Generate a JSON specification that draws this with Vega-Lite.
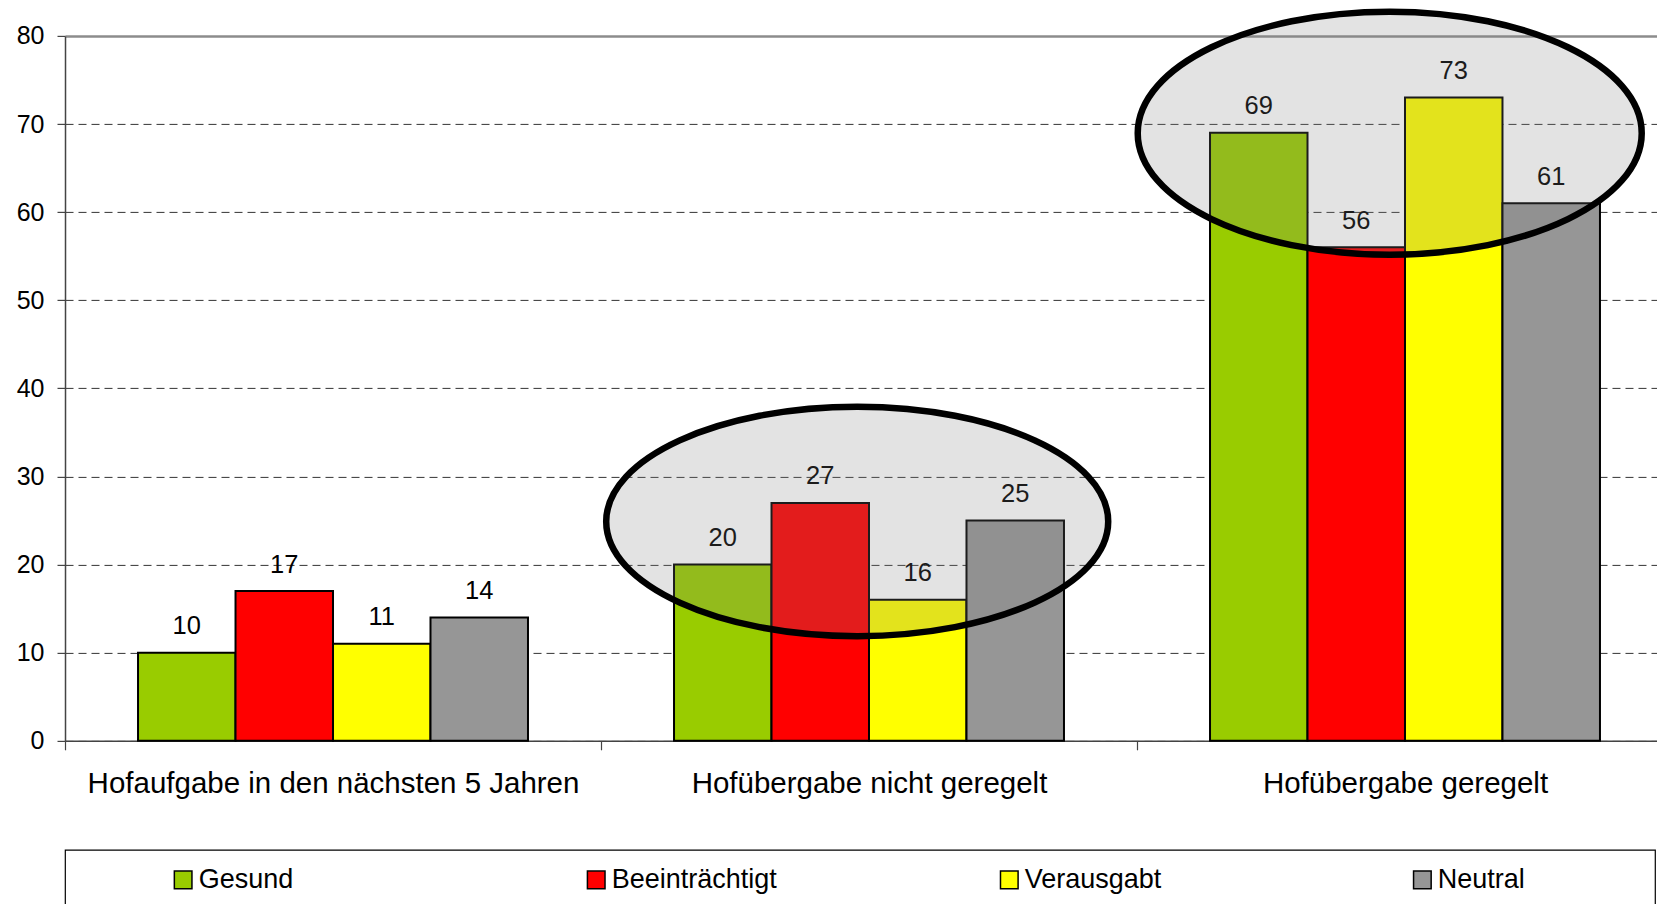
{
  "$schema": "https://vega.github.io/schema/vega-lite/v6.json",
  "padding": {"left": 16, "top": -2.1, "right": -17, "bottom": -6},
  "spacing": 109,
  "bounds": "flush",
  "resolve": {"scale": {"x": "independent", "y": "independent", "color": "shared"}},
  "config": {
    "font": "Liberation Sans",
    "view": {"stroke": null},
    "text": {"font": "Liberation Sans"}
  },
  "vconcat": [
    {
      "width": 1608,
      "height": 704.9,
      "data": {"values": [
        {"cat": "Hofaufgabe in den nächsten 5 Jahren", "series": "Gesund", "value": 10},
        {"cat": "Hofaufgabe in den nächsten 5 Jahren", "series": "Beeinträchtigt", "value": 17},
        {"cat": "Hofaufgabe in den nächsten 5 Jahren", "series": "Verausgabt", "value": 11},
        {"cat": "Hofaufgabe in den nächsten 5 Jahren", "series": "Neutral", "value": 14},
        {"cat": "Hofübergabe nicht geregelt", "series": "Gesund", "value": 20},
        {"cat": "Hofübergabe nicht geregelt", "series": "Beeinträchtigt", "value": 27},
        {"cat": "Hofübergabe nicht geregelt", "series": "Verausgabt", "value": 16},
        {"cat": "Hofübergabe nicht geregelt", "series": "Neutral", "value": 25},
        {"cat": "Hofübergabe geregelt", "series": "Gesund", "value": 69},
        {"cat": "Hofübergabe geregelt", "series": "Beeinträchtigt", "value": 56},
        {"cat": "Hofübergabe geregelt", "series": "Verausgabt", "value": 73},
        {"cat": "Hofübergabe geregelt", "series": "Neutral", "value": 61}
      ]},
      "encoding": {
        "x": {
          "field": "cat", "type": "nominal",
          "sort": ["Hofaufgabe in den nächsten 5 Jahren", "Hofübergabe nicht geregelt", "Hofübergabe geregelt"],
          "scale": {"paddingInner": 0, "paddingOuter": 0},
          "axis": {
            "title": null, "tickBand": "extent", "tickSize": 9, "tickColor": "#444444", "tickWidth": 1.2,
            "domainColor": "#444444", "domainWidth": 1.5, "labelFontSize": 29.5, "labelPadding": 20,
            "labelColor": "black", "labelAngle": 0, "labelLimit": 0, "grid": false
          }
        },
        "y": {
          "field": "value", "type": "quantitative",
          "scale": {"domain": [0, 80], "nice": false},
          "axis": {
            "title": null, "values": [0, 10, 20, 30, 40, 50, 60, 70, 80],
            "domainColor": "#444444", "domainWidth": 1.5, "tickColor": "#444444", "tickSize": 8, "tickWidth": 1.2,
            "labelFontSize": 25, "labelColor": "black", "labelPadding": 13,
            "grid": true,
            "gridColor": {"condition": {"test": "datum.value === 80", "value": "#8c8c8c"}, "value": "#333333"},
            "gridDash": {"condition": {"test": "datum.value === 80", "value": []}, "value": [8, 5]},
            "gridWidth": {"condition": {"test": "datum.value === 80", "value": 2.5}, "value": 1}
          }
        }
      },
      "layer": [
        {
          "mark": {"type": "bar", "stroke": "black", "strokeWidth": 2},
          "encoding": {
            "xOffset": {"field": "series", "type": "nominal", "sort": ["Gesund", "Beeinträchtigt", "Verausgabt", "Neutral"], "scale": {"paddingInner": 0, "paddingOuter": 0.749}},
            "color": {
              "field": "series", "type": "nominal",
              "scale": {"domain": ["Gesund", "Beeinträchtigt", "Verausgabt", "Neutral"], "range": ["#99CC00", "#FF0000", "#FFFF00", "#969696"]},
              "legend": null
            }
          }
        },
        {
          "mark": {"type": "text", "fontSize": 25.5, "color": "black", "baseline": "alphabetic", "dy": -18.4},
          "encoding": {
            "xOffset": {"field": "series", "type": "nominal", "sort": ["Gesund", "Beeinträchtigt", "Verausgabt", "Neutral"]},
            "text": {"field": "value", "type": "quantitative"}
          }
        },
        {
          "data": {"values": [{"cat": "Hofübergabe nicht geregelt", "value": 24.89}]},
          "mark": {
            "type": "point", "filled": true, "opacity": 1,
            "shape": "M-1,0C-1,-0.2524,-0.5523,-0.457,0,-0.457C0.5523,-0.457,1,-0.2524,1,0C1,0.2524,0.5523,0.457,0,0.457C-0.5523,0.457,-1,0.2524,-1,0Z",
            "size": 252004, "fill": "#7f7f7f", "fillOpacity": 0.22, "stroke": "black", "strokeOpacity": 1, "strokeWidth": 6.5
          },
          "encoding": {
            "x": {"field": "cat", "type": "nominal", "bandPosition": 0.478},
            "y": {"field": "value", "type": "quantitative"}
          }
        },
        {
          "data": {"values": [{"cat": "Hofübergabe geregelt", "value": 68.96}]},
          "mark": {
            "type": "point", "filled": true, "opacity": 1,
            "shape": "M-1,0C-1,-0.2662,-0.5523,-0.482,0,-0.482C0.5523,-0.482,1,-0.2662,1,0C1,0.2662,0.5523,0.482,0,0.482C-0.5523,0.482,-1,0.2662,-1,0Z",
            "size": 254016, "fill": "#7f7f7f", "fillOpacity": 0.22, "stroke": "black", "strokeOpacity": 1, "strokeWidth": 6.5
          },
          "encoding": {
            "x": {"field": "cat", "type": "nominal", "bandPosition": 0.4715},
            "y": {"field": "value", "type": "quantitative"}
          }
        }
      ]
    },
    {
      "width": 1590,
      "height": 60,
      "view": {"stroke": "black", "strokeWidth": 1.2},
      "data": {"values": [
        {"series": "Gesund"},
        {"series": "Beeinträchtigt"},
        {"series": "Verausgabt"},
        {"series": "Neutral"}
      ]},
      "layer": [
        {
          "mark": {"type": "point", "shape": "square", "size": 310, "filled": true, "opacity": 1, "stroke": "black", "strokeWidth": 1.5},
          "encoding": {
            "x": {"field": "series", "type": "nominal", "sort": ["Gesund", "Beeinträchtigt", "Verausgabt", "Neutral"], "bandPosition": 0.286, "scale": {"type": "band", "paddingInner": 0, "paddingOuter": 0, "range": [0, 1652.3]}, "axis": null},
            "color": {"field": "series", "type": "nominal", "legend": null}
          }
        },
        {
          "mark": {"type": "text", "align": "left", "baseline": "middle", "fontSize": 27, "color": "black"},
          "encoding": {
            "x": {"field": "series", "type": "nominal", "sort": ["Gesund", "Beeinträchtigt", "Verausgabt", "Neutral"], "bandPosition": 0.3235, "axis": null},
            "text": {"field": "series", "type": "nominal"}
          }
        }
      ]
    }
  ]
}
